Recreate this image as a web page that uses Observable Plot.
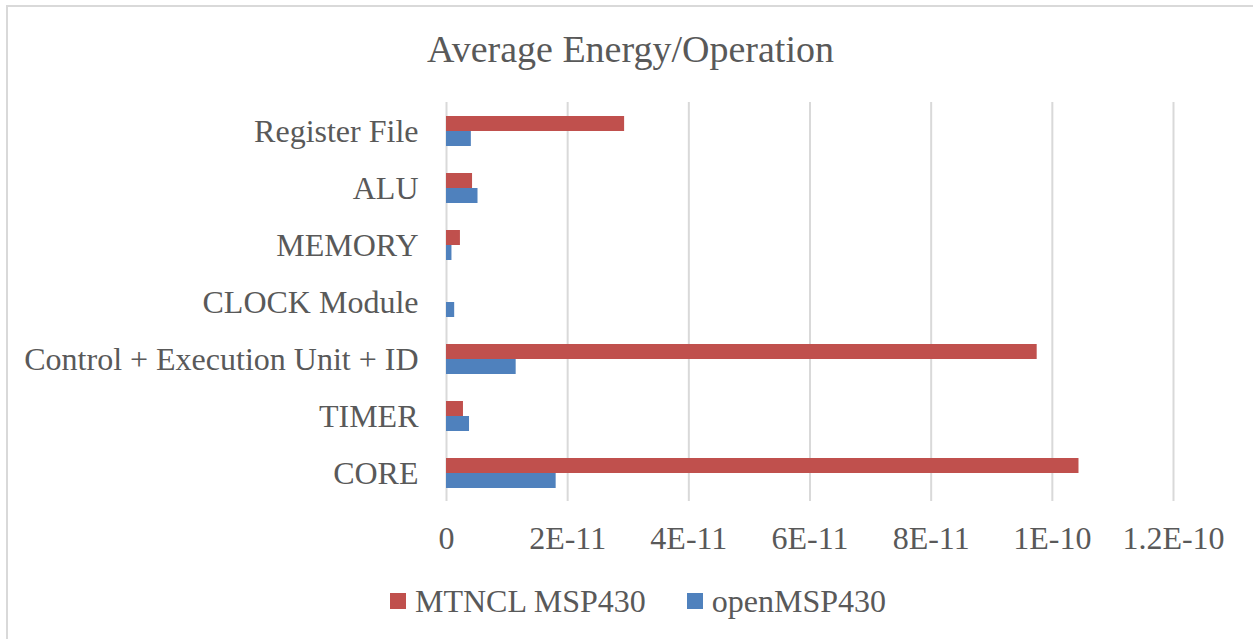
<!DOCTYPE html>
<html>
<head>
<meta charset="utf-8">
<script src="https://cdn.jsdelivr.net/npm/d3@7"></script>
<script src="https://cdn.jsdelivr.net/npm/@observablehq/plot@0.6"></script>
<style>
  html, body { margin: 0; padding: 0; background: #fff; }
  #wrap { position: relative; width: 1253px; height: 639px; overflow: hidden; background: #fff; font-family: "Liberation Serif", "Times New Roman", serif; color: #595959; }
  #frame { position: absolute; left: 6px; top: 5px; width: 1260px; height: 650px; border-left: 2px solid #d9d9d9; border-top: 2px solid #d9d9d9; }
  #title { position: absolute; left: 0; top: 28px; width: 1261px; text-align: center; font-size: 38px; line-height: 42px; }
  #chart { position: absolute; left: 0; top: 95px; }
  #legend { position: absolute; left: 390px; top: 583px; display: flex; align-items: center; font-size: 32px; line-height: 36px; }
  .item { display: flex; align-items: center; }
  .sw { width: 16px; height: 16px; margin-right: 9px; }
</style>
</head>
<body>
<div id="wrap">
  <div id="frame"></div>
  <div id="title">Average Energy/Operation</div>
  <div id="chart"></div>
  <div id="legend"></div>
</div>
<script>
const categories = ["Register File", "ALU", "MEMORY", "CLOCK Module", "Control + Execution Unit + ID", "TIMER", "CORE"];
const seriesNames = ["MTNCL MSP430", "openMSP430"];
const seriesColors = ["#C0504D", "#4F81BD"];
const mtnclValues = [2.94e-11, 0.43e-11, 0.23e-11, 0, 9.75e-11, 0.28e-11, 10.44e-11];
const openValues = [0.41e-11, 0.52e-11, 0.09e-11, 0.135e-11, 1.15e-11, 0.38e-11, 1.81e-11];
const tickValues = [0, 2e-11, 4e-11, 6e-11, 8e-11, 1e-10, 1.2e-10];
const tickLabels = ["0", "2E-11", "4E-11", "6E-11", "8E-11", "1E-10", "1.2E-10"];

const mtncl = categories.map((c, i) => ({category: c, value: mtnclValues[i], series: seriesNames[0]}));
const open = categories.map((c, i) => ({category: c, value: openValues[i], series: seriesNames[1]}));
const fmt = (d) => tickLabels[tickValues.findIndex(t => Math.abs(t - d) < 1e-15)];

const chart = Plot.plot({
  width: 1253,
  height: 470,
  marginLeft: 446,
  marginRight: 80,
  marginTop: 7,
  marginBottom: 64,
  style: {fontFamily: "'Liberation Serif', 'Times New Roman', serif", fontSize: "32px", color: "#595959", background: "transparent"},
  x: {domain: [0, 1.2e-10], ticks: tickValues, tickFormat: fmt, label: null},
  y: {domain: categories, paddingInner: 0.4737, paddingOuter: 0.2368, align: 0.5, label: null},
  marks: [
    Plot.ruleX(tickValues, {stroke: "#d9d9d9", strokeWidth: 2}),
    Plot.barX(mtncl, {y: "category", x: "value", fill: seriesColors[0], insetBottom: 15}),
    Plot.barX(open, {y: "category", x: "value", fill: seriesColors[1], insetTop: 15}),
    Plot.axisX({ticks: tickValues, tickFormat: fmt, tickSize: 0, tickPadding: 25, fill: "#595959", fontSize: 32, label: null}),
    Plot.axisY({tickSize: 0, tickPadding: 28, fill: "#595959", fontSize: 32, label: null})
  ]
});
document.getElementById("chart").appendChild(chart);

const legend = document.getElementById("legend");
seriesNames.forEach((name, i) => {
  const item = document.createElement("div");
  item.className = "item";
  if (i > 0) item.style.marginLeft = "41px";
  const sw = document.createElement("div");
  sw.className = "sw";
  sw.style.background = seriesColors[i];
  const t = document.createElement("span");
  t.textContent = name;
  item.appendChild(sw);
  item.appendChild(t);
  legend.appendChild(item);
});
</script>
</body>
</html>
